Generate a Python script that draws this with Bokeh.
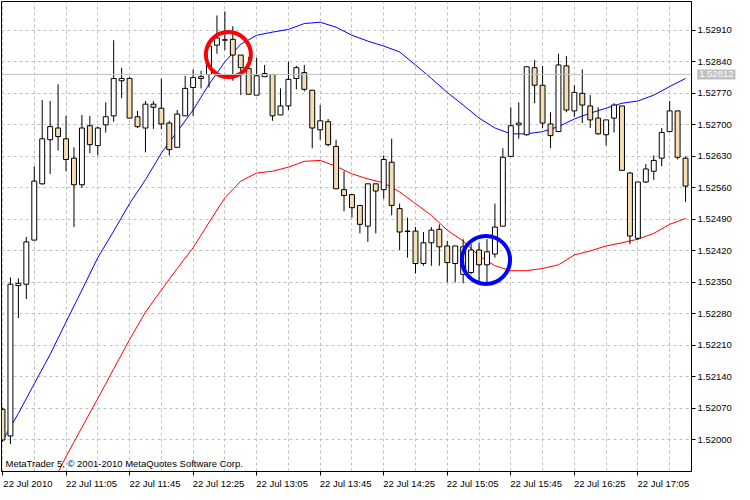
from bokeh.plotting import figure
from bokeh.models import Range1d, FixedTicker, PrintfTickFormatter, Span, Label
from bokeh.embed import file_html
from bokeh.resources import INLINE

# ---- data (M5 candles) ----
opens = [
    1.52068, 1.52009, 1.52343, 1.52346, 1.52444, 1.52569, 1.52667, 1.52693, 1.52669, 1.52626,
    1.52567, 1.52698, 1.52654, 1.52700, 1.52720, 1.52798, 1.52803, 1.52718, 1.52693, 1.52746,
    1.52737, 1.52704, 1.52650, 1.52720, 1.52783, 1.52803, 1.52812, 1.52877, 1.52888, 1.52890,
    1.52855, 1.52825, 1.52766, 1.52807, 1.52812, 1.52722, 1.52742, 1.52803, 1.52816, 1.52777,
    1.52689, 1.52707, 1.52652, 1.52556, 1.52545, 1.52521, 1.52475, 1.52569, 1.52556, 1.52617,
    1.52514, 1.52463, 1.52464, 1.52392, 1.52438, 1.52468, 1.52431, 1.52392, 1.52368, 1.52372,
    1.52422, 1.52389, 1.52413, 1.52475, 1.52630, 1.52700, 1.52678, 1.52827, 1.52788, 1.52702,
    1.52685, 1.52831, 1.52731, 1.52770, 1.52742, 1.52715, 1.52678, 1.52715, 1.52742, 1.52593,
    1.52448, 1.52573, 1.52597, 1.52626, 1.52685, 1.52731, 1.52626]
highs = [
    1.52072, 1.52361, 1.52359, 1.52451, 1.52608, 1.52755, 1.52753, 1.52790, 1.52720, 1.52650,
    1.52722, 1.52720, 1.52696, 1.52750, 1.52888, 1.52827, 1.52807, 1.52731, 1.52753, 1.52753,
    1.52803, 1.52709, 1.52733, 1.52809, 1.52823, 1.52820, 1.52877, 1.52943, 1.52952, 1.52919,
    1.52855, 1.52851, 1.52849, 1.52833, 1.52812, 1.52781, 1.52840, 1.52831, 1.52833, 1.52777,
    1.52744, 1.52713, 1.52667, 1.52597, 1.52545, 1.52521, 1.52569, 1.52569, 1.52632, 1.52669,
    1.52525, 1.52494, 1.52473, 1.52462, 1.52473, 1.52479, 1.52442, 1.52431, 1.52446, 1.52435,
    1.52438, 1.52446, 1.52525, 1.52648, 1.52739, 1.52750, 1.52829, 1.52844, 1.52831, 1.52728,
    1.52858, 1.52853, 1.52788, 1.52823, 1.52766, 1.52739, 1.52711, 1.52748, 1.52742, 1.52595,
    1.52573, 1.52613, 1.52632, 1.52693, 1.52753, 1.52731, 1.52630]
lows = [
    1.51996, 1.51991, 1.52271, 1.52313, 1.52444, 1.52567, 1.52591, 1.52643, 1.52597, 1.52473,
    1.52560, 1.52637, 1.52632, 1.52683, 1.52707, 1.52759, 1.52715, 1.52693, 1.52639, 1.52691,
    1.52691, 1.52632, 1.52650, 1.52720, 1.52720, 1.52781, 1.52783, 1.52858, 1.52866, 1.52798,
    1.52766, 1.52768, 1.52766, 1.52807, 1.52709, 1.52722, 1.52733, 1.52779, 1.52774, 1.52648,
    1.52667, 1.52652, 1.52558, 1.52508, 1.52494, 1.52459, 1.52440, 1.52459, 1.52536, 1.52499,
    1.52422, 1.52405, 1.52370, 1.52387, 1.52387, 1.52387, 1.52350, 1.52350, 1.52348, 1.52368,
    1.52348, 1.52348, 1.52405, 1.52475, 1.52630, 1.52669, 1.52676, 1.52748, 1.52693, 1.52648,
    1.52685, 1.52728, 1.52718, 1.52704, 1.52693, 1.52678, 1.52654, 1.52683, 1.52599, 1.52435,
    1.52444, 1.52571, 1.52578, 1.52608, 1.52685, 1.52623, 1.52529]
closes = [
    1.52000, 1.52346, 1.52348, 1.52440, 1.52575, 1.52669, 1.52696, 1.52674, 1.52623, 1.52567,
    1.52693, 1.52656, 1.52693, 1.52718, 1.52803, 1.52803, 1.52715, 1.52696, 1.52746, 1.52739,
    1.52702, 1.52645, 1.52724, 1.52781, 1.52805, 1.52807, 1.52875, 1.52893, 1.52889, 1.52855,
    1.52827, 1.52768, 1.52809, 1.52814, 1.52720, 1.52742, 1.52801, 1.52827, 1.52779, 1.52693,
    1.52709, 1.52656, 1.52558, 1.52543, 1.52516, 1.52479, 1.52569, 1.52553, 1.52623, 1.52521,
    1.52462, 1.52464, 1.52392, 1.52438, 1.52466, 1.52429, 1.52394, 1.52431, 1.52429, 1.52422,
    1.52389, 1.52418, 1.52473, 1.52628, 1.52698, 1.52704, 1.52829, 1.52788, 1.52704, 1.52676,
    1.52833, 1.52733, 1.52772, 1.52744, 1.52711, 1.52680, 1.52711, 1.52744, 1.52599, 1.52453,
    1.52573, 1.52602, 1.52621, 1.52683, 1.52731, 1.52628, 1.52564]
bars = list(range(len(opens)))

# moving averages, read every second bar
fast_ma_bars = list(range(0, 87, 2))
fast_ma = [
    1.51998, 1.52059, 1.52125, 1.52190, 1.52262, 1.52333, 1.52405, 1.52464, 1.52525, 1.52578,
    1.52637, 1.52685, 1.52733, 1.52790, 1.52840, 1.52879, 1.52899, 1.52906, 1.52912, 1.52925,
    1.52928, 1.52917, 1.52899, 1.52886, 1.52875, 1.52862, 1.52833, 1.52803, 1.52772, 1.52744,
    1.52715, 1.52693, 1.52680, 1.52680, 1.52685, 1.52696, 1.52713, 1.52726, 1.52737, 1.52748,
    1.52753, 1.52766, 1.52785, 1.52803]
slow_ma_bars = list(range(6, 87, 2))
slow_ma = [
    1.51893, 1.51963, 1.52028, 1.52092, 1.52158, 1.52223, 1.52284, 1.52333, 1.52381, 1.52427,
    1.52483, 1.52538, 1.52575, 1.52593, 1.52597, 1.52606, 1.52619, 1.52621, 1.52608, 1.52591,
    1.52580, 1.52571, 1.52551, 1.52525, 1.52499, 1.52466, 1.52442, 1.52409, 1.52387, 1.52376,
    1.52376, 1.52381, 1.52389, 1.52411, 1.52420, 1.52431, 1.52438, 1.52446, 1.52459, 1.52479,
    1.52492]

# highlighted crossover points
signal_bars = [28.44, 60.88]
signal_prices = [1.52856, 1.52400]
signal_colors = ["#FF0000", "#0000FF"]

bid_price = 1.52812

y_tick_values = [1.52000, 1.52070, 1.52140, 1.52210, 1.52280, 1.52350, 1.52420,
                 1.52490, 1.52560, 1.52630, 1.52700, 1.52770, 1.52840, 1.52910]
x_tick_bars = [0, 8, 16, 24, 32, 40, 48, 56, 64, 72, 80]
x_tick_labels = ["22 Jul 2010", "22 Jul 11:05", "22 Jul 11:45", "22 Jul 12:25",
                 "22 Jul 13:05", "22 Jul 13:45", "22 Jul 14:25", "22 Jul 15:05",
                 "22 Jul 15:45", "22 Jul 16:25", "22 Jul 17:05"]

FONT = "Liberation Sans"
FS = "9.5px"
GRID = "#C0C0C0"
BULL = "#FFFFFF"
BEAR = "#F5DEB3"
LABEL_SHIFT = 3.2   # labels start at their tick (left aligned), in bar units

p = figure(frame_width=690, frame_height=470,
           x_range=Range1d(-0.125, 86.75), y_range=Range1d(1.51930, 1.52974),
           y_axis_location="right", toolbar_location=None, output_backend="svg",
           min_border_left=1, min_border_top=1, min_border_right=4, min_border_bottom=0,
           background_fill_color="white", border_fill_color="white")
p.outline_line_color = "black"
p.outline_line_width = 1

# grid
p.xgrid.ticker = FixedTicker(ticks=list(range(0, 87, 4)))
for g in (p.xgrid, p.ygrid):
    g.grid_line_color = GRID
    g.grid_line_dash = "3 3"
    g.grid_line_width = 1

# bid line
p.add_layout(Span(location=bid_price, dimension="width", line_color=GRID, line_width=1))

# moving averages
p.line(fast_ma_bars, fast_ma, line_color="#0000FF", line_width=1)
p.line(slow_ma_bars, slow_ma, line_color="#FF0000", line_width=1)

# candles
tops = [max(o, c) for o, c in zip(opens, closes)]
bottoms = [min(o, c) for o, c in zip(opens, closes)]
fills = [BULL if c >= o else BEAR for o, c in zip(opens, closes)]
p.segment(x0=bars, y0=highs, x1=bars, y1=lows, line_color="black", line_width=1)
p.vbar(x=bars, width=0.62, top=tops, bottom=bottoms, fill_color=fills,
       line_color="black", line_width=1)

# signal circles
p.scatter(x=signal_bars, y=signal_prices, marker="circle", size=[45, 48],
          fill_alpha=0, line_color=signal_colors, line_width=4)

# y axis (right)
ya = p.yaxis[0]
ya.ticker = FixedTicker(ticks=y_tick_values)
ya.formatter = PrintfTickFormatter(format="%.5f")
ya.axis_line_color = "black"
ya.major_tick_line_color = "black"
ya.major_tick_out = 4
ya.major_tick_in = 0
ya.minor_tick_line_color = None
ya.major_label_standoff = 2
ya.major_label_text_font = FONT
ya.major_label_text_font_size = FS
ya.major_label_text_color = "black"

# x axis: visible tick marks at the bars (minor ticks), labels starting at each tick
label_pos = [b + LABEL_SHIFT for b in x_tick_bars]
xa = p.xaxis[0]
xa.ticker = FixedTicker(ticks=label_pos, minor_ticks=x_tick_bars)
xa.major_label_overrides = {x: t for x, t in zip(label_pos, x_tick_labels)}
xa.axis_line_color = "black"
xa.major_tick_line_color = None
xa.major_tick_out = 4
xa.major_tick_in = 0
xa.minor_tick_line_color = "black"
xa.minor_tick_out = 4
xa.minor_tick_in = 0
xa.major_label_standoff = 2
xa.major_label_text_font = FONT
xa.major_label_text_font_size = FS
xa.major_label_text_color = "black"

# bid price tag, in the right side panel, right-aligned to the end of the axis labels
p.add_layout(Label(x=1, y=bid_price, x_units="screen", y_units="data",
                   text="%.5f" % bid_price, text_font=FONT, text_font_size=FS,
                   text_color="white", text_baseline="middle", text_align="right",
                   background_fill_color=GRID, padding=2), "right")

# copyright
p.add_layout(Label(x=4, y=3, x_units="screen", y_units="screen",
                   text="MetaTrader 5, \u00a9 2001-2010 MetaQuotes Software Corp.",
                   text_font=FONT, text_font_size=FS, text_color="black",
                   text_baseline="bottom"))

open("out.html", "w").write(file_html(p, INLINE))
